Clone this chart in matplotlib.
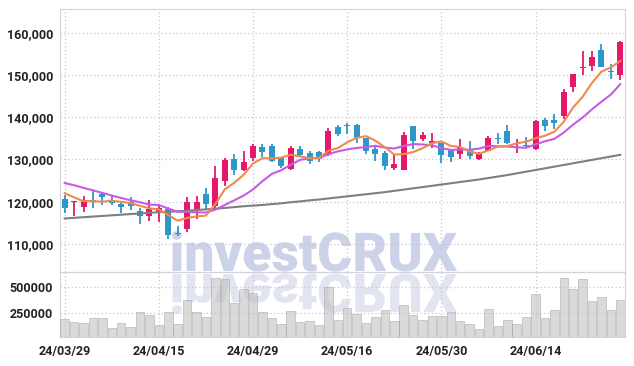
import matplotlib
matplotlib.use("Agg")
import matplotlib.pyplot as plt
from matplotlib.textpath import TextPath
from matplotlib.patches import PathPatch
from matplotlib.font_manager import FontProperties
from matplotlib.transforms import Affine2D
from matplotlib.ticker import FuncFormatter

# trading days, 24/03/29 .. 24/06/27
dates = ["24/03/29", "24/04/01", "24/04/02", "24/04/03", "24/04/04", "24/04/05",
         "24/04/08", "24/04/09", "24/04/11", "24/04/12", "24/04/15", "24/04/16",
         "24/04/17", "24/04/18", "24/04/19", "24/04/22", "24/04/23", "24/04/24",
         "24/04/25", "24/04/26", "24/04/29", "24/04/30", "24/05/02", "24/05/03",
         "24/05/07", "24/05/08", "24/05/09", "24/05/10", "24/05/13", "24/05/14",
         "24/05/16", "24/05/17", "24/05/20", "24/05/21", "24/05/22", "24/05/23",
         "24/05/24", "24/05/27", "24/05/28", "24/05/29", "24/05/30", "24/05/31",
         "24/06/03", "24/06/04", "24/06/05", "24/06/07", "24/06/10", "24/06/11",
         "24/06/12", "24/06/13", "24/06/14", "24/06/17", "24/06/18", "24/06/19",
         "24/06/20", "24/06/21", "24/06/24", "24/06/25", "24/06/26", "24/06/27"]

opens = [120700, 119800, 118800, 120400, 121800, 120300, 119500, 119800, 117700, 116600,
         117300, 118200, 112500, 113600, 118300, 121700, 119000, 125000, 130200, 127500,
         130400, 132900, 133300, 130400, 127700, 132400, 131500, 131700, 131000, 137700,
         138100, 138100, 135000, 132400, 131600, 127900, 127600, 137900, 134800, 134000,
         133800, 132400, 131200, 132500, 130000, 132000, 135200, 136700, 133700, 133500,
         132500, 139400, 139400, 140200, 147300, 151600, 152200, 155900, 151000, 150000]
highs = [121500, 120100, 121300, 122400, 122300, 121300, 120000, 121200, 118500, 120400,
         119500, 118800, 114300, 121200, 121400, 123200, 128500, 130400, 131200, 132000,
         133600, 133700, 133600, 130400, 133100, 133200, 132000, 132000, 137500, 138200,
         138600, 138400, 135000, 133200, 132000, 131200, 136500, 138000, 136600, 136300,
         133800, 132400, 134900, 134400, 131700, 135500, 136300, 138100, 134900, 135300,
         139300, 139900, 140700, 146800, 150200, 155800, 155800, 157400, 152600, 158200]
lows = [117400, 116500, 117500, 118400, 119200, 119100, 117200, 118100, 114600, 115300,
        115100, 111200, 111900, 112700, 115900, 118100, 118200, 123800, 126400, 127200,
        129600, 130700, 129400, 127900, 127400, 130600, 129000, 129400, 130800, 135500,
        136000, 134000, 131400, 129600, 127600, 127600, 127400, 132400, 134400, 132800,
        129200, 129400, 130000, 130200, 129800, 132000, 133600, 133600, 131600, 132800,
        132300, 136700, 137300, 139700, 145900, 150000, 151000, 152000, 149200, 148900]
closes = [118600, 120000, 120300, 119800, 121200, 119700, 118700, 118900, 116500, 118200,
          118400, 112000, 112300, 119800, 119900, 119500, 125600, 129800, 127500, 129400,
          133100, 131700, 129600, 128400, 132800, 131100, 129600, 130000, 136800, 136000,
          137900, 135000, 132000, 131300, 128400, 129000, 135700, 134400, 135800, 134400,
          131000, 130600, 133000, 130800, 131200, 135200, 134900, 133800, 134000, 133200,
          139200, 137900, 138600, 145900, 150200, 151800, 154400, 152000, 150800, 157900]

# moving averages
ma5 = [122000, 121000, 120100, 120100, 119980, 120200, 119940, 119660, 119000, 118400,
       118140, 116800, 115480, 116140, 116480, 116700, 119420, 122920, 124460, 126360,
       129080, 130300, 130260, 130440, 131120, 130720, 130300, 130380, 132060, 132700,
       134060, 135140, 135540, 134440, 132920, 131140, 131280, 131760, 132660, 133860,
       134260, 133240, 132960, 131960, 131320, 132160, 133020, 133180, 133820, 134220,
       135020, 135620, 136580, 138960, 142360, 144880, 148180, 150860, 151840, 153380]
ma10 = [124400, 123900, 123250, 122700, 122060, 121430, 120870, 120320, 119840, 119300,
        119170, 118370, 117570, 117570, 117440, 117420, 118110, 119200, 120300, 121420,
        122890, 124860, 126590, 127450, 128740, 129900, 130300, 130320, 131250, 131910,
        132390, 132720, 132960, 133250, 132810, 132600, 133210, 133650, 133550, 133390,
        132700, 132260, 132360, 132310, 132590, 133210, 133130, 133070, 132890, 132770,
        133590, 134320, 134880, 136390, 138290, 139950, 141900, 143720, 145400, 147870]
ma60 = [116000, 116150, 116300, 116450, 116600, 116750, 116900, 117050, 117200, 117350,
        117500, 117600, 117700, 117850, 118000, 118150, 118300, 118500, 118700, 118900,
        119050, 119200, 119400, 119600, 119850, 120050, 120300, 120500, 120750, 121000,
        121250, 121500, 121750, 122000, 122250, 122550, 122850, 123150, 123450, 123750,
        124050, 124350, 124650, 124950, 125250, 125600, 125950, 126300, 126700, 127100,
        127500, 127900, 128300, 128700, 129100, 129500, 129900, 130300, 130700, 131100]

volumes = [193800, 168500, 156000, 203000, 203000, 109500, 156000, 118900, 265000, 234000,
           137600, 265000, 149800, 371700, 265000, 212500, 577700, 568300, 343600, 474700,
           437200, 265000, 203000, 149800, 274300, 165700, 180700, 140400, 493400, 187300,
           296600, 243400, 156000, 212500, 280900, 177900, 327700, 234000, 187300, 224700,
           224700, 259300, 177900, 149800, 99900, 287100, 131100, 187300, 149800, 212500,
           430700, 203000, 280900, 577700, 474700, 568300, 365200, 399800, 280900, 374500]

tick_idx = [0, 10, 20, 30, 40, 50]

UP = "#e6186b"
DOWN = "#2e97c9"
GRID = "#c6c6da"
SPINE = "#d2d2dc"

plt.rcParams['font.family'] = ['Roboto', 'DejaVu Sans']

fig = plt.figure(figsize=(6.34, 3.66), dpi=100)
ax = fig.add_axes([60 / 634, 94 / 366, 565 / 634, 263 / 366])
axv = fig.add_axes([60 / 634, 29 / 366, 565 / 634, 65 / 366], sharex=ax)

# watermark + reflection, in pixel coords
fp = FontProperties(family='Roboto', weight='black')
tp = TextPath((0, 0), "investCRUX", size=1, prop=fp)
bb = tp.get_extents()
s = 285 / bb.width
wm = PathPatch(tp, transform=Affine2D().translate(-bb.x0, 0).scale(s).translate(172, 366 - 271),
               facecolor="#ccd2e7", edgecolor="none", zorder=-5)
refl = PathPatch(tp, transform=Affine2D().translate(-bb.x0, 0).scale(s, -s).translate(172, 366 - 274),
                 facecolor="#e2e5f0", edgecolor="none", zorder=-5)
fig.patches.extend([wm, refl])

x = list(range(len(closes)))
colors = [UP if c >= o else DOWN for o, c in zip(opens, closes)]
bottoms = [min(o, c) for o, c in zip(opens, closes)]
heights = [max(abs(c - o), 250) for o, c in zip(opens, closes)]

ax.vlines(x, lows, highs, colors=colors, linewidth=1.3, zorder=3)
ax.bar(x, heights, bottom=bottoms, width=0.64, color=colors, zorder=4)
ax.plot(x, ma60, color="#7f7f7f", lw=1.5, zorder=5)
ax.plot(x, ma10, color="#c95ae6", lw=1.5, zorder=5)
ax.plot(x, ma5, color="#f08a4c", lw=1.5, zorder=5)

ax.set_xlim(-0.5, 59.5)
ax.set_ylim(103300, 165700)
ax.set_yticks([110000, 120000, 130000, 140000, 150000, 160000])
ax.yaxis.set_major_formatter(FuncFormatter(lambda v, p: f"{int(v):,}"))

axv.bar(x, volumes, width=0.9, color="#bdbdbd", alpha=0.55, edgecolor="#9e9e9e", linewidth=0.6, zorder=3)
axv.set_ylim(28000, 637000)
axv.set_yticks([250000, 500000])
axv.yaxis.set_major_formatter(FuncFormatter(lambda v, p: f"{int(v)}"))
axv.set_xticks(tick_idx)
axv.set_xticklabels([dates[i] for i in tick_idx])

for a in (ax, axv):
    a.set_facecolor("none")
    a.grid(True, color=GRID, linestyle=(0, (1, 2)), linewidth=0.9)
    a.set_axisbelow(True)
    for sp in a.spines.values():
        sp.set_color(SPINE)
    a.tick_params(length=0, labelsize=9, colors="#222222", pad=5)
    for lab in a.get_yticklabels() + a.get_xticklabels():
        lab.set_fontweight("bold")
ax.tick_params(labelbottom=False)
axv.tick_params(axis='x', pad=6)

fig.savefig("out.png", dpi=100)
